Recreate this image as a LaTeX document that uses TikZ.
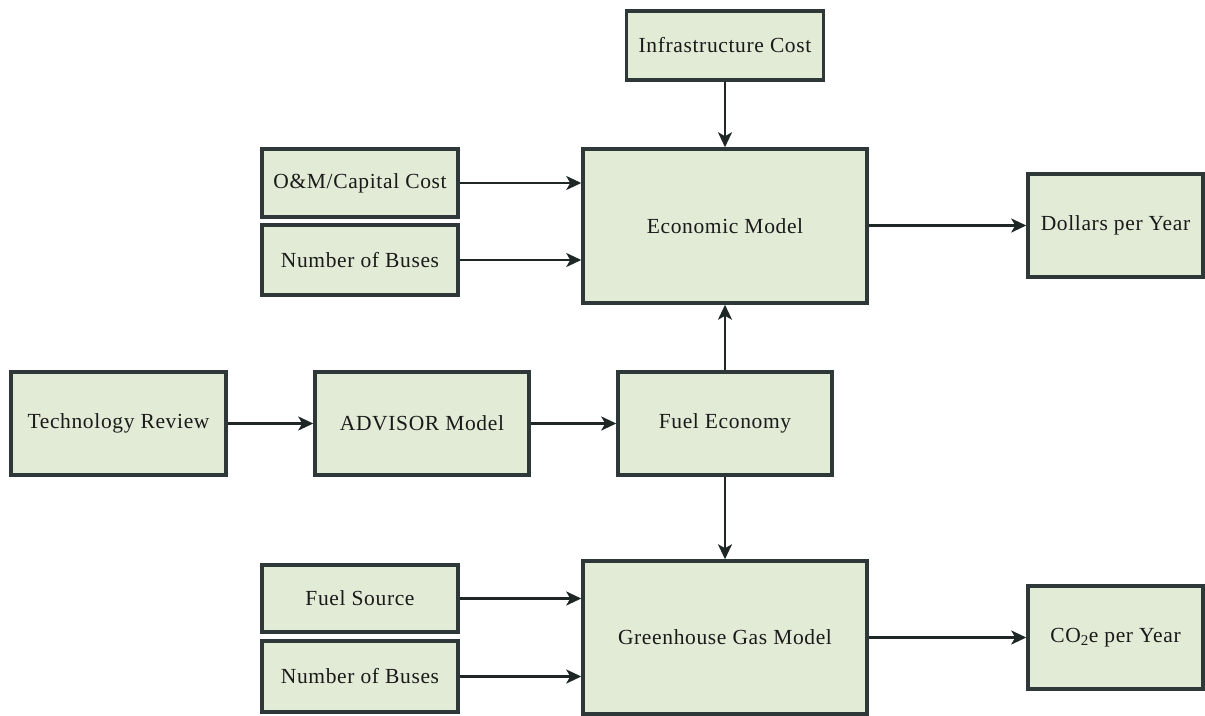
\documentclass[tikz,border=0pt]{standalone}
\usepackage{fontspec}
\setmainfont{Liberation Serif}
\usetikzlibrary{arrows.meta}
\definecolor{boxfill}{HTML}{E2EBD6}
\definecolor{boxline}{HTML}{2F3838}
\definecolor{arrowc}{HTML}{1E2626}
\definecolor{txt}{HTML}{1A1A1A}
\begin{document}
\begin{tikzpicture}[x=1pt,y=-1pt,
  blk/.style={draw=boxline, line width=3.5pt, fill=boxfill, inner sep=0pt,
    text=txt, font=\fontsize{21.5}{24}\selectfont\addfontfeatures{LetterSpace=3}},
  conn/.style={draw=arrowc, line width=2.4pt, -{Stealth[length=15pt,width=14pt,inset=4pt]}}]
\useasboundingbox (0,0) rectangle (1205,715);
\node[blk, minimum width=197pt, minimum height=69pt] (infra) at (725,45.5) {Infrastructure Cost};
\node[blk, minimum width=284pt, minimum height=154pt] (econ) at (725,226) {Economic Model};
\node[blk, minimum width=196pt, minimum height=68pt] (om) at (360,183) {O\&M/Capital Cost};
\node[blk, minimum width=196pt, minimum height=70pt] (nb1) at (360,260) {Number of Buses};
\node[blk, minimum width=175pt, minimum height=103pt] (dollars) at (1115.5,225.5) {Dollars per Year};
\node[blk, minimum width=215pt, minimum height=103pt] (tech) at (118.5,423.5) {Technology Review};
\node[blk, minimum width=214pt, minimum height=103pt] (adv) at (422,423.5) {ADVISOR Model};
\node[blk, minimum width=214pt, minimum height=103pt] (fe) at (725,423.5) {Fuel Economy};
\node[blk, minimum width=196pt, minimum height=67pt] (fs) at (360,598.5) {Fuel Source};
\node[blk, minimum width=196pt, minimum height=71pt] (nb2) at (360,676.5) {Number of Buses};
\node[blk, minimum width=284pt, minimum height=153pt] (ghg) at (725,637.5) {Greenhouse Gas Model};
\node[blk, minimum width=175pt, minimum height=103pt] (co2) at (1115.5,637.5) {CO\textsubscript{2}e per Year};
\draw[conn] (infra.south) -- (econ.north);
\draw[conn] (om.east) -- (om.east -| econ.west);
\draw[conn] (nb1.east) -- (nb1.east -| econ.west);
\draw[conn] (econ.east |- dollars.west) -- (dollars.west);
\draw[conn] (tech.east) -- (adv.west);
\draw[conn] (adv.east) -- (fe.west);
\draw[conn] (fe.north) -- (econ.south);
\draw[conn] (fe.south) -- (ghg.north);
\draw[conn] (fs.east) -- (fs.east -| ghg.west);
\draw[conn] (nb2.east) -- (nb2.east -| ghg.west);
\draw[conn] (ghg.east |- co2.west) -- (co2.west);
\end{tikzpicture}
\end{document}
